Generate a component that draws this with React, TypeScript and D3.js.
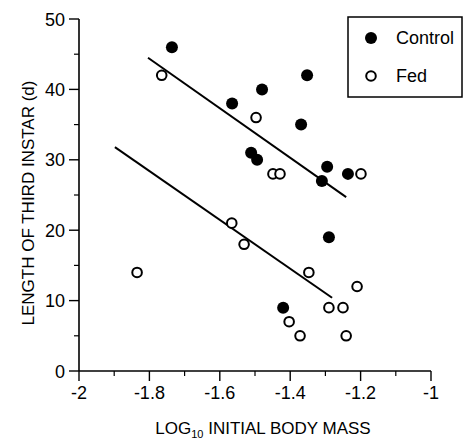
import React, { useEffect, useRef } from 'react';
import * as d3 from 'd3';

// log10 initial body mass vs length of third instar (days)
const controlX = [-1.736, -1.565, -1.352, -1.48, -1.369, -1.511, -1.494, -1.295, -1.31, -1.236, -1.29, -1.42];
const controlY = [46, 38, 42, 40, 35, 31, 30, 29, 27, 28, 19, 9];
const fedX = [-1.765, -1.497, -1.449, -1.429, -1.199, -1.835, -1.566, -1.531, -1.347, -1.21, -1.29, -1.25, -1.403, -1.372, -1.241];
const fedY = [42, 36, 28, 28, 28, 14, 21, 18, 14, 12, 9, 9, 7, 5, 5];

// fitted lines as drawn (endpoints)
const controlFitX = [-1.804, -1.241];
const controlFitY = [44.5, 24.7];
const fedFitX = [-1.898, -1.281];
const fedFitY = [31.8, 10.4];

const xTicks = [-2, -1.8, -1.6, -1.4, -1.2, -1];
const xTickLabels = ['-2', '-1.8', '-1.6', '-1.4', '-1.2', '-1'];
const xMinor = [-1.9, -1.7, -1.5, -1.3, -1.1];
const yTicks = [0, 10, 20, 30, 40, 50];
const yMinor = [5, 15, 25, 35, 45];

export default function App() {
  const svgRef = useRef<SVGSVGElement>(null);

  useEffect(() => {
    if (!svgRef.current) return;
    const width = 465;
    const height = 442;
    const svg = d3.select(svgRef.current);
    svg.selectAll('*').remove();
    svg.attr('width', width).attr('height', height)
      .style('font-family', '"Liberation Sans", Arial, sans-serif');

    const x = d3.scaleLinear().domain([-2, -1]).range([79, 431]);
    const y = d3.scaleLinear().domain([0, 50]).range([371, 19]);

    const g = svg.append('g');

    // axes
    g.append('line').attr('x1', x(-2)).attr('x2', x(-2)).attr('y1', y(0)).attr('y2', y(50))
      .attr('stroke', '#000').attr('stroke-width', 1.6);
    g.append('line').attr('x1', x(-2)).attr('x2', x(-1)).attr('y1', y(0)).attr('y2', y(0))
      .attr('stroke', '#000').attr('stroke-width', 1.6);

    g.selectAll('.ytick').data(yTicks).join('line')
      .attr('x1', x(-2) - 10).attr('x2', x(-2))
      .attr('y1', d => y(d)).attr('y2', d => y(d))
      .attr('stroke', '#000').attr('stroke-width', 1.4);
    g.selectAll('.yminor').data(yMinor).join('line')
      .attr('x1', x(-2) - 5).attr('x2', x(-2))
      .attr('y1', d => y(d)).attr('y2', d => y(d))
      .attr('stroke', '#000').attr('stroke-width', 1.2);
    g.selectAll('.ylab').data(yTicks).join('text')
      .attr('x', x(-2) - 14).attr('y', d => y(d) + 6.5)
      .attr('text-anchor', 'end').style('font-size', '18px')
      .text(d => String(d));

    g.selectAll('.xtick').data(xTicks).join('line')
      .attr('x1', d => x(d)).attr('x2', d => x(d))
      .attr('y1', y(0)).attr('y2', y(0) + 10)
      .attr('stroke', '#000').attr('stroke-width', 1.4);
    g.selectAll('.xminor').data(xMinor).join('line')
      .attr('x1', d => x(d)).attr('x2', d => x(d))
      .attr('y1', y(0)).attr('y2', y(0) + 5)
      .attr('stroke', '#000').attr('stroke-width', 1.2);
    g.selectAll('.xlab').data(xTicks).join('text')
      .attr('x', d => x(d)).attr('y', 399)
      .attr('text-anchor', 'middle').style('font-size', '18px')
      .text((d, i) => xTickLabels[i]);

    // axis titles
    const xt = g.append('text').attr('x', 263).attr('y', 434)
      .attr('text-anchor', 'middle').style('font-size', '17px');
    xt.append('tspan').text('LOG');
    xt.append('tspan').attr('dy', 4).style('font-size', '11px').text('10');
    xt.append('tspan').attr('dy', -4).text(' INITIAL BODY MASS');

    g.append('text')
      .attr('transform', 'translate(34,203) rotate(-90)')
      .attr('text-anchor', 'middle').style('font-size', '17px')
      .text('LENGTH OF THIRD INSTAR (d)');

    // fit lines
    const line = d3.line<[number, number]>().x(d => x(d[0])).y(d => y(d[1]));
    const cFit = controlFitX.map((v, i) => [v, controlFitY[i]] as [number, number]);
    const fFit = fedFitX.map((v, i) => [v, fedFitY[i]] as [number, number]);
    g.append('path').attr('d', line(cFit)).attr('stroke', '#000').attr('stroke-width', 2).attr('fill', 'none');
    g.append('path').attr('d', line(fFit)).attr('stroke', '#000').attr('stroke-width', 2).attr('fill', 'none');

    // points
    g.selectAll('.ctrl').data(controlX).join('circle')
      .attr('cx', d => x(d)).attr('cy', (d, i) => y(controlY[i]))
      .attr('r', 6).attr('fill', '#000');
    g.selectAll('.fed').data(fedX).join('circle')
      .attr('cx', d => x(d)).attr('cy', (d, i) => y(fedY[i]))
      .attr('r', 4.8).attr('fill', '#fff').attr('stroke', '#000').attr('stroke-width', 2);

    // legend
    const lg = svg.append('g');
    lg.append('rect').attr('x', 348).attr('y', 17).attr('width', 114).attr('height', 80)
      .attr('fill', '#fff').attr('stroke', '#000').attr('stroke-width', 1.5);
    lg.append('circle').attr('cx', 371).attr('cy', 38).attr('r', 6).attr('fill', '#000');
    lg.append('circle').attr('cx', 371).attr('cy', 76).attr('r', 4.8)
      .attr('fill', '#fff').attr('stroke', '#000').attr('stroke-width', 2);
    lg.append('text').attr('x', 396).attr('y', 44).style('font-size', '18px').text('Control');
    lg.append('text').attr('x', 396).attr('y', 82).style('font-size', '18px').text('Fed');
  }, []);

  return (
    <div style={{ position: 'absolute', left: 0, top: 0, background: '#fff' }}>
      <svg ref={svgRef}></svg>
    </div>
  );
}
